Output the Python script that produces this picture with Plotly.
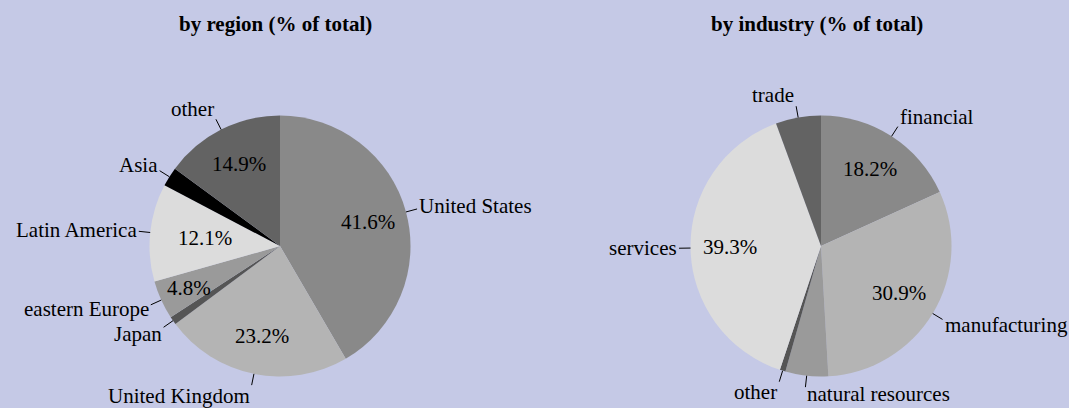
import math
import plotly.graph_objects as go

# ---------------- data ----------------
region_labels = ["United States", "United Kingdom", "Japan", "eastern Europe",
                 "Latin America", "Asia", "other"]
region_values = [41.6, 23.2, 1.0, 4.8, 12.1, 2.4, 14.9]
region_show_pct = [True, True, False, True, True, False, True]

industry_labels = ["financial", "manufacturing", "natural resources", "other",
                   "services", "trade"]
industry_values = [18.2, 30.9, 5.3, 0.7, 39.3, 5.6]
industry_show_pct = [True, True, False, False, True, False]

titles = ["by region (% of total)", "by industry (% of total)"]

# ---------------- styles ----------------
region_colors = ["#898989", "#b4b4b4", "#555555", "#9a9a9a", "#dcdcdc", "#000000", "#636363"]
industry_colors = ["#898989", "#b4b4b4", "#9a9a9a", "#555555", "#dcdcdc", "#636363"]

W, H = 1069, 408
BG = "#c5c9e6"
FONT = "Liberation Serif"
R = 130.5
PCT_R = 0.7
label_side_override = {("industry", "natural resources"): "left"}
label_vshift_override = {("industry", "natural resources"): 7}
pct_radius_override = {("region", "Latin America"): 0.58, ("region", "eastern Europe"): 0.77}

pies = [
    dict(key="region", title=titles[0], labels=region_labels, values=region_values,
         colors=region_colors, show=region_show_pct, cx=280, cy=246, tx=275),
    dict(key="industry", title=titles[1], labels=industry_labels, values=industry_values,
         colors=industry_colors, show=industry_show_pct, cx=821, cy=246, tx=817),
]

fig = go.Figure()
shapes = []
annotations = []


def px(x, y):
    return x / W, 1 - y / H


for p in pies:
    cx, cy = p["cx"], p["cy"]
    fig.add_trace(go.Pie(
        labels=p["labels"], values=p["values"], sort=False, direction="clockwise",
        rotation=0, textinfo="none", showlegend=False, hole=0,
        marker=dict(colors=p["colors"], line=dict(width=0)),
        domain=dict(x=[(cx - R) / W, (cx + R) / W],
                    y=[1 - (cy + R) / H, 1 - (cy - R) / H]),
    ))
    total = sum(p["values"])
    cum = 0.0
    for lab, val, show in zip(p["labels"], p["values"], p["show"]):
        mid = (cum + val / 2) / total * 2 * math.pi
        cum += val
        s, c = math.sin(mid), math.cos(mid)
        x0, y0 = cx + R * s, cy - R * c
        x1, y1 = cx + R * 1.088 * s, cy - R * 1.088 * c
        a0, b0 = px(x0, y0)
        a1, b1 = px(x1, y1)
        shapes.append(dict(type="line", xref="paper", yref="paper",
                           x0=a0, y0=b0, x1=a1, y1=b1,
                           line=dict(color="black", width=1)))
        key = (p["key"], lab)
        side = label_side_override.get(key, "left" if s > 0 else "right")
        vs = label_vshift_override.get(key, 11)
        annotations.append(dict(
            x=a1, y=b1, xref="paper", yref="paper", text=lab, showarrow=False,
            xanchor=side, yanchor="middle", yshift=vs * c,
            font=dict(family=FONT, size=21, color="black")))
        if show:
            rf = pct_radius_override.get(key, PCT_R)
            tx_, ty_ = px(cx + R * rf * s, cy - R * rf * c)
            annotations.append(dict(
                x=tx_, y=ty_, xref="paper", yref="paper", text=f"{val:.1f}%",
                showarrow=False, xanchor="center", yanchor="middle",
                font=dict(family=FONT, size=21, color="black")))
    ta, tb = px(p["tx"], 24)
    annotations.append(dict(
        x=ta, y=tb, xref="paper", yref="paper", text=f"<b>{p['title']}</b>",
        showarrow=False, xanchor="center", yanchor="middle",
        font=dict(family=FONT, size=21, color="black")))

fig.update_layout(
    width=W, height=H, margin=dict(l=0, r=0, t=0, b=0),
    paper_bgcolor=BG, plot_bgcolor=BG,
    shapes=shapes, annotations=annotations,
)

fig.write_html(
    "out.html",
    config={"displayModeBar": False},
    post_script="document.body.style.margin='0';document.body.style.padding='0';"
                "document.body.style.overflow='hidden';",
)
